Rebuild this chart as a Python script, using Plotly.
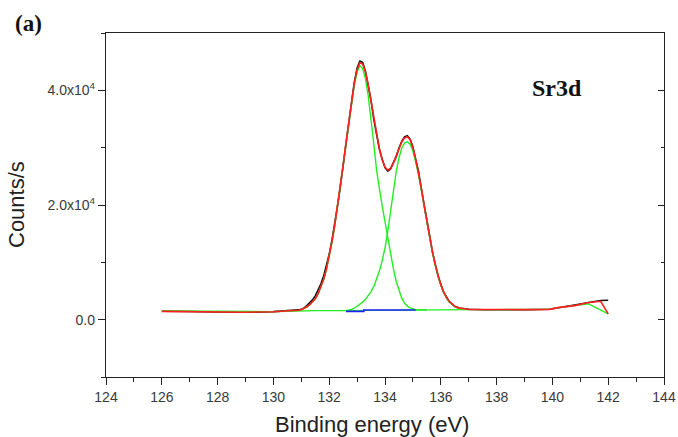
import plotly.graph_objects as go

# ---------------- data ----------------
peak_x = [round(131.0 + 0.1 * i, 1) for i in range(61)]  # 131.0 .. 137.0 grid positions

env_left_x = [126.0, 126.5, 127.0, 128.0, 129.0, 130.0, 130.5, 130.9]
env_left_y = [1450, 1420, 1400, 1330, 1300, 1380, 1480, 1650]
env_peak_y = [1750, 1950, 2250, 2600, 3050, 3650, 4500, 5600, 7000, 8800,
              11000, 13600, 16500, 19800, 23300, 27000, 30800, 34500, 38000, 41200,
              43600, 44800, 44600, 43200, 40900, 38000, 35000, 32200, 29800, 27900,
              26600, 26100, 26400, 27300, 28500, 29800, 31000, 31700, 31900, 31400,
              30000, 28000, 25800, 23000, 20000, 17200, 14500, 11900, 9600, 7700,
              6100, 4900, 3900, 3200, 2700, 2350, 2100, 1980, 1900, 1850, 1800]
env_right_x = [137.5, 138.0, 139.0, 139.9, 140.2, 140.8, 141.3, 141.73, 142.0]
env_right_y = [1760, 1750, 1760, 1800, 2100, 2450, 3000, 3210, 1000]

raw_left_y = [1480, 1400, 1420, 1350, 1290, 1400, 1500, 1700]
raw_peak_y = [1800, 2050, 2450, 2900, 3450, 4150, 5100, 6200, 7600, 9300,
              11400, 13900, 16700, 19900, 23200, 27100, 30700, 34600, 37900, 41400,
              43900, 45100, 44900, 43300, 40800, 38200, 34900, 32300, 29700, 28000,
              26500, 25900, 26300, 27400, 28400, 29900, 31100, 31900, 32100, 31500,
              30100, 27900, 25900, 22900, 20100, 17100, 14600, 11800, 9700, 7600,
              6200, 4800, 4000, 3150, 2750, 2300, 2150, 1950, 1920, 1830, 1820]
raw_right_x = [137.5, 138.0, 139.0, 139.9, 140.2, 140.8, 141.3, 141.73, 142.0]
raw_right_y = [1720, 1700, 1720, 1820, 2080, 2480, 2980, 3330, 3380]

comp1_x = peak_x[:46]  # 131.0 .. 135.5
comp1_y = [1700, 1900, 2200, 2550, 3000, 3600, 4450, 5550, 6950, 8750,
           10950, 13550, 16450, 19750, 23200, 26900, 30650, 34300, 37750, 40900,
           43200, 44300, 43800, 42000, 39000, 35200, 30600, 26000, 22700, 19800,
           17100, 14300, 11500, 8900, 6700, 5000, 3750, 2900, 2350, 2050,
           1850, 1750, 1720, 1720, 1730, 1740]

comp2_x = peak_x[16:]  # 132.6 .. 137.0
comp2_y = [1570, 1650, 1800, 2000, 2300, 2650, 3050, 3550, 4150, 4900,
           5800, 7000, 8500, 10300, 12500, 15400, 19000, 22600, 25800, 28200,
           29900, 30800, 31000, 30600, 29400, 27500, 25400, 22700, 19800, 17000,
           14350, 11800, 9500, 7600, 6000, 4800, 3800, 3100, 2600, 2250,
           2050, 1930, 1850, 1800, 1760]

bg_x = [126.0, 126.5, 127.0, 128.0, 129.0, 130.0, 130.5, 130.9, 131.5, 132.6,
        133.24, 135.1, 137.0, 138.0, 139.0, 139.9, 140.2, 140.8, 141.3, 142.0]
bg_y = [1500, 1480, 1450, 1380, 1330, 1400, 1480, 1560, 1570, 1570,
        1600, 1750, 1750, 1750, 1760, 1800, 2100, 2400, 2750, 1000]

shirley_x = [132.6, 133.24, 133.24, 135.1]
shirley_y = [1450, 1450, 1690, 1690]

x_ticks = [124, 126, 128, 130, 132, 134, 136, 138, 140, 142, 144]
y_ticks = [0, 20000, 40000]
y_ticktext = ["0.0", "2.0x10<sup>4</sup>", "4.0x10<sup>4</sup>"]

env_x = env_left_x + peak_x + env_right_x
env_y = env_left_y + env_peak_y + env_right_y
raw_x = env_left_x + peak_x + raw_right_x
raw_y = raw_left_y + raw_peak_y + raw_right_y

# ---------------- figure ----------------
fig = go.Figure()
fig.add_trace(go.Scatter(x=raw_x, y=raw_y, mode="lines",
                         line=dict(color="#111111", width=1.6), hoverinfo="skip"))
fig.add_trace(go.Scatter(x=bg_x, y=bg_y, mode="lines",
                         line=dict(color="#22ee22", width=1.4), hoverinfo="skip"))
fig.add_trace(go.Scatter(x=comp1_x, y=comp1_y, mode="lines",
                         line=dict(color="#22ee22", width=1.4), hoverinfo="skip"))
fig.add_trace(go.Scatter(x=comp2_x, y=comp2_y, mode="lines",
                         line=dict(color="#22ee22", width=1.4), hoverinfo="skip"))
fig.add_trace(go.Scatter(x=shirley_x, y=shirley_y, mode="lines",
                         line=dict(color="#2020ff", width=1.6), hoverinfo="skip"))
fig.add_trace(go.Scatter(x=env_x, y=env_y, mode="lines",
                         line=dict(color="#ff2020", width=1.6), hoverinfo="skip"))
# helper trace for the right-hand (inward tick) axis
fig.add_trace(go.Scatter(x=[130], y=[0], yaxis="y2", mode="markers",
                         marker=dict(opacity=0), hoverinfo="skip"))

tick_font = dict(family="Liberation Sans, Arial, sans-serif", size=14, color="#3a3a3a")

fig.update_layout(
    width=678, height=437, autosize=False,
    margin=dict(l=106, r=14, t=33, b=60),
    paper_bgcolor="white", plot_bgcolor="white",
    showlegend=False,
    xaxis=dict(range=[124, 144], tickvals=x_ticks, ticktext=[str(v) for v in x_ticks],
               ticks="outside", ticklen=7, tickwidth=1.2, tickcolor="#222222",
               minor=dict(dtick=1, tick0=124, ticks="outside", ticklen=4,
                          tickwidth=1.2, tickcolor="#222222", showgrid=False),
               showline=True, linecolor="#222222", linewidth=1.3, mirror=True,
               showgrid=False, zeroline=False, tickfont=tick_font, automargin=False),
    yaxis=dict(range=[-10000, 50000], tickvals=y_ticks, ticktext=y_ticktext,
               ticks="outside", ticklen=7, tickwidth=1.2, tickcolor="#222222",
               minor=dict(dtick=10000, tick0=0, ticks="outside", ticklen=4,
                          tickwidth=1.2, tickcolor="#222222", showgrid=False),
               showline=True, linecolor="#222222", linewidth=1.3, mirror=True,
               showgrid=False, zeroline=False, tickfont=tick_font, automargin=False),
    yaxis2=dict(range=[-10000, 50000], overlaying="y", side="right",
                tickvals=y_ticks, showticklabels=False,
                ticks="inside", ticklen=6, tickwidth=1.2, tickcolor="#222222",
                minor=dict(dtick=10000, tick0=0, ticks="inside", ticklen=3,
                           tickwidth=1.2, tickcolor="#222222", showgrid=False),
                showline=False, showgrid=False, zeroline=False, automargin=False),
    annotations=[
        dict(text="Counts/s", xref="paper", yref="paper", x=(16 - 106) / 558, y=0.5,
             xanchor="center", yanchor="middle", textangle=-90, showarrow=False,
             font=dict(family="Liberation Sans, Arial, sans-serif", size=22, color="#222222")),
        dict(text="Binding energy (eV)", xref="paper", yref="paper", x=(372 - 106) / 558,
             y=(377 - 424) / 344, xanchor="center", yanchor="middle", showarrow=False,
             font=dict(family="Liberation Sans, Arial, sans-serif", size=22, color="#222222")),
        dict(text="<b>(a)</b>", xref="paper", yref="paper", x=(28 - 106) / 558,
             y=(377 - 24) / 344, xanchor="center", yanchor="middle", showarrow=False,
             font=dict(family="Liberation Serif, Times New Roman, serif", size=23, color="#111111")),
        dict(text="<b>Sr3d</b>", xref="paper", yref="paper", x=(557 - 106) / 558,
             y=(377 - 88) / 344, xanchor="center", yanchor="middle", showarrow=False,
             font=dict(family="Liberation Serif, Times New Roman, serif", size=24, color="#111111")),
    ],
)

fig.write_html("out.html")
